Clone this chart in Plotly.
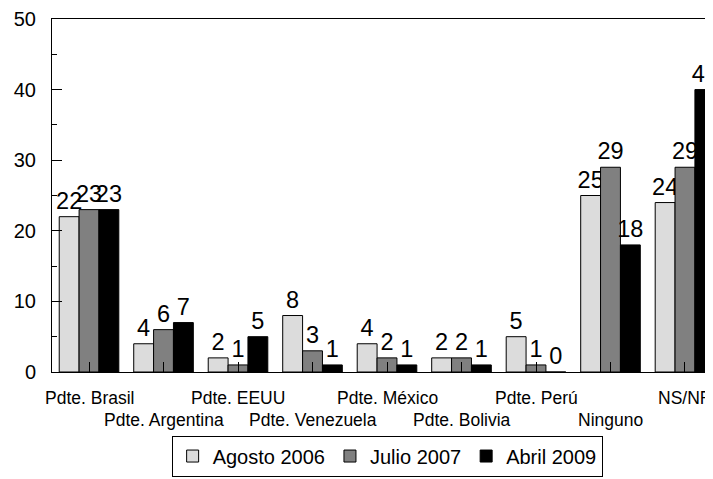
import plotly.graph_objects as go

categories = ["Pdte. Brasil", "Pdte. Argentina", "Pdte. EEUU", "Pdte. Venezuela",
              "Pdte. México", "Pdte. Bolivia", "Pdte. Perú", "Ninguno", "NS/NR"]
series_names = ["Agosto 2006", "Julio 2007", "Abril 2009"]
agosto_2006 = [22, 4, 2, 8, 4, 2, 5, 25, 24]
julio_2007 = [23, 6, 1, 3, 2, 2, 1, 29, 29]
abril_2009 = [23, 7, 5, 1, 1, 1, 0, 18, 40]
y_ticks = [0, 10, 20, 30, 40, 50]

colors = ["#dcdcdc", "#808080", "#000000"]
FONT = "Liberation Sans, Arial, sans-serif"

fig = go.Figure()
for name, vals, col in zip(series_names, [agosto_2006, julio_2007, abril_2009], colors):
    fig.add_trace(go.Bar(
        x=categories, y=vals, name=name,
        marker=dict(color=col, line=dict(color="#000000", width=1)),
        text=[str(v) for v in vals], textposition="outside",
        textfont=dict(size=23.5, color="black", family=FONT),
        constraintext="none", textangle=0, cliponaxis=False,
    ))

# staggered category labels
for i, c in enumerate(categories):
    fig.add_annotation(x=c, xref="x", y=0, yref="paper", text=c, showarrow=False,
                       yanchor="middle", xanchor="center",
                       yshift=-26 if i % 2 == 0 else -48,
                       font=dict(size=17.5, color="black", family=FONT))

# page body has an 8px margin, so the figure is sized to fill the rest of the window
fig.update_layout(
    width=705, height=471,
    margin=dict(l=44, r=0, t=7, b=107),
    paper_bgcolor="white", plot_bgcolor="white",
    barmode="group", bargap=0.2, bargroupgap=0,
    font=dict(family=FONT, color="black"),
    showlegend=True,
    legend=dict(orientation="h", x=0.507, xanchor="center", y=-0.18, yanchor="top",
                bordercolor="#000000", borderwidth=1, font=dict(size=20, family=FONT),
                traceorder="normal"),
    xaxis=dict(type="category", range=[-0.497, 8.376], showline=True, linecolor="black",
               linewidth=1, mirror=True, ticks="inside", ticklen=10, tickcolor="black",
               showticklabels=False, showgrid=False, zeroline=False),
    yaxis=dict(range=[0, 50], tickvals=y_ticks, showline=True, linecolor="black", linewidth=1,
               ticks="inside", ticklen=10, tickcolor="black", showgrid=False, zeroline=False,
               tickfont=dict(size=20, family=FONT, color="black"), ticklabelstandoff=11,
               ticklabeloverflow="allow",
               minor=dict(dtick=5, ticks="inside", ticklen=5, tickcolor="black")),
)

fig.write_html("out.html")
